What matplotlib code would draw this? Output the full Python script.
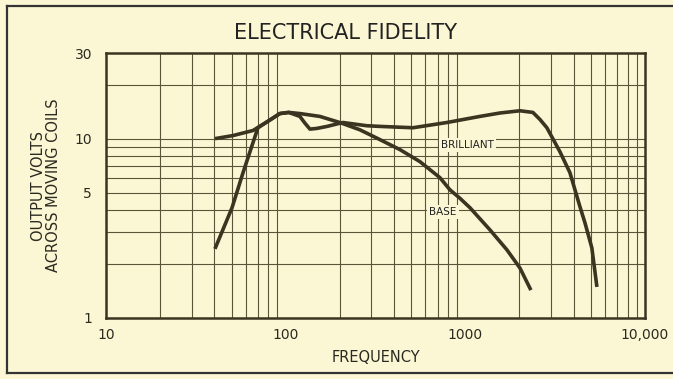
import numpy as np
import matplotlib.pyplot as plt
from matplotlib.lines import Line2D
from matplotlib.ticker import FixedLocator, NullFormatter

# frequency response curves (Hz, output volts)
base_freq = [40.4, 50.9, 65.8, 78.7, 92.9, 104, 120, 155, 200, 259, 335, 433,
             559, 722, 820, 933, 1061, 1371, 1703, 2013, 2317]
base_volts = [10.0, 10.4, 11.1, 12.4, 13.8, 14.0, 13.8, 13.3, 12.3, 11.2, 9.87,
              8.68, 7.44, 6.06, 5.19, 4.65, 4.12, 3.10, 2.40, 1.90, 1.43]

brilliant_freq = [40.4, 50.3, 57.9, 70.1, 78.7, 92.9, 104, 120, 128, 136.5, 149,
                  170, 208, 283, 335, 511, 790, 1205, 1560, 2013, 2377, 2600,
                  2844, 3360, 3820, 4345, 4630, 5060, 5400]
brilliant_volts = [2.43, 4.12, 6.46, 11.5, 12.4, 13.8, 14.0, 13.3, 12.2, 11.3,
                   11.4, 11.7, 12.3, 11.8, 11.7, 11.5, 12.3, 13.3, 13.9, 14.3,
                   14.0, 12.8, 11.5, 8.46, 6.46, 4.17, 3.40, 2.46, 1.49]

x_ticks = [10, 100, 1000, 10000]
x_ticklabels = ['10', '100', '1000', '10,000']
y_ticks = [1, 5, 10, 30]
y_ticklabels = ['1', '5', '10', '30']

paper = '#fbf7d4'
ink = '#3a3420'
grid_ink = '#5a5438'

fig = plt.figure(figsize=(6.73, 3.79), dpi=100)
fig.patch.set_facecolor(paper)
ax = fig.add_axes([0.1575, 0.161, 0.8009, 0.699])
ax.set_facecolor(paper)

ax.set_xscale('log')
ax.set_yscale('log')
ax.set_xlim(10, 10000)
ax.set_ylim(1, 30)

# ruled grid: every 2..9 multiple across, 2..10 and 20 up the side
vgrid = [m * 10 ** d for d in range(1, 4) for m in range(2, 10)]
for v in vgrid:
    ax.axvline(v, color=grid_ink, lw=0.8, zorder=1)
for h in list(range(2, 11)) + [20]:
    ax.axhline(h, color=grid_ink, lw=0.8, zorder=1)

ax.plot(base_freq, base_volts, color=ink, lw=2.6, solid_capstyle='butt',
        solid_joinstyle='round', zorder=3)
ax.plot(brilliant_freq, brilliant_volts, color=ink, lw=2.6, solid_capstyle='butt',
        solid_joinstyle='round', zorder=3)

ax.text(1030, 9.2, 'BRILLIANT', fontsize=7.5, color='#222', ha='center', va='center',
        zorder=2, bbox=dict(facecolor=paper, edgecolor='none', pad=1.5))
ax.text(750, 3.9, 'BASE', fontsize=7.5, color='#222', ha='center', va='center',
        zorder=2, bbox=dict(facecolor=paper, edgecolor='none', pad=1.5))

ax.xaxis.set_major_locator(FixedLocator(x_ticks))
ax.xaxis.set_minor_formatter(NullFormatter())
ax.set_xticklabels(x_ticklabels)
ax.yaxis.set_major_locator(FixedLocator(y_ticks))
ax.yaxis.set_minor_formatter(NullFormatter())
ax.set_yticklabels(y_ticklabels)
ax.tick_params(which='both', length=0, labelsize=10, colors='#2a2a20', pad=7)
ax.tick_params(axis='y', pad=10)

for side in ['left', 'bottom', 'top', 'right']:
    ax.spines[side].set_color(ink)
    ax.spines[side].set_linewidth(1.8)

ax.set_xlabel('FREQUENCY', fontsize=10.5, color='#2a2a20', labelpad=6)
ax.set_ylabel('OUTPUT VOLTS\nACROSS MOVING COILS', fontsize=10.5, color='#2a2a20',
              labelpad=10, linespacing=1.0)

fig.text(0.513, 0.913, 'ELECTRICAL FIDELITY', fontsize=15, color='#222',
         ha='center', va='center')

# outer border (open on the right)
W, H = 673, 379
for xs, ys in [([7, 7], [6, 373]), ([7, 673], [373, 373]), ([7, 673], [6, 6])]:
    fig.add_artist(Line2D([x / W for x in xs], [1 - y / H for y in ys],
                          transform=fig.transFigure, color='#333', lw=1.6))

fig.savefig('out.png', dpi=100, facecolor=paper)
